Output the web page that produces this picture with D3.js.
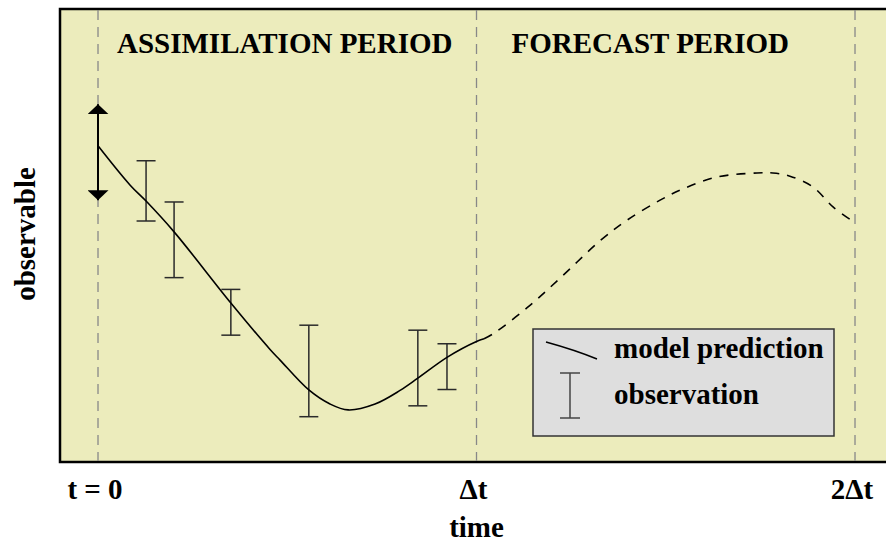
<!DOCTYPE html>
<html lang="en">
<head>
    <meta charset="UTF-8">
    <title>Assimilation and Forecast</title>
    <script src="https://d3js.org/d3.v7.min.js"></script>
    <style>
        body { margin: 0; background: #fff; }
        text { font-family: "Liberation Serif", "Times New Roman", serif; font-weight: bold; }
    </style>
</head>
<body>
    <svg id="chart" width="886" height="544"></svg>
    <script>
    // time in units of Δt, observable in arbitrary units (0-100)
    const tickTimes = [0, 1, 2];
    const tickLabels = ["t = 0", "\u0394t", "2\u0394t"];
    const periodLabels = ["ASSIMILATION PERIOD", "FORECAST PERIOD"];

    const modelTime = [0, 0.085, 0.127, 0.201, 0.351, 0.454, 0.481, 0.557, 0.613, 0.661, 0.732, 0.798, 0.845, 0.922, 1.0, 1.02];
    const modelValue = [69.8, 61.1, 57.6, 50.8, 35.1, 24.9, 22.5, 15.9, 12.8, 11.5, 12.8, 15.8, 18.5, 23.1, 26.6, 27.2];

    const forecastTime = [1.02, 1.044, 1.133, 1.221, 1.326, 1.398, 1.485, 1.546, 1.635, 1.741, 1.783, 1.828, 1.889, 1.942, 1.997];
    const forecastValue = [27.2, 28.3, 34.0, 40.6, 48.8, 53.4, 57.8, 60.3, 62.9, 63.8, 63.8, 63.1, 60.7, 56.3, 53.0];

    const obsTime = [0.127, 0.201, 0.351, 0.557, 0.845, 0.922];
    const obsHigh = [66.5, 57.4, 38.1, 30.2, 29.1, 26.1];
    const obsLow = [53.2, 40.7, 28.0, 10.0, 12.4, 16.0];

    // initial-state uncertainty range at t = 0
    const initRange = [57.8, 79.0];

    const svg = d3.select("#chart");
    const frame = { left: 60, top: 9, bottom: 462, right: 900 };

    const x = d3.scaleLinear().domain([0, 2]).range([98, 855]);
    const y = d3.scaleLinear().domain([0, 100]).range([frame.bottom, frame.top]);

    const defs = svg.append("defs");
    defs.append("marker")
        .attr("id", "head")
        .attr("viewBox", "0 0 10 21")
        .attr("refX", 10).attr("refY", 10.5)
        .attr("markerWidth", 10).attr("markerHeight", 21)
        .attr("markerUnits", "userSpaceOnUse")
        .attr("orient", "auto-start-reverse")
        .append("path")
        .attr("d", "M0,0 L10,10.5 L0,21 Z")
        .attr("fill", "#000");

    // background panel
    svg.append("rect")
        .attr("x", frame.left).attr("y", frame.top)
        .attr("width", frame.right - frame.left)
        .attr("height", frame.bottom - frame.top)
        .attr("fill", "#ececbc")
        .attr("stroke", "#000")
        .attr("stroke-width", 2.5);

    // dashed period boundaries
    svg.selectAll("line.period")
        .data(tickTimes)
        .enter().append("line")
        .attr("class", "period")
        .attr("x1", d => x(d)).attr("x2", d => x(d))
        .attr("y1", frame.top + 1).attr("y2", frame.bottom - 1)
        .attr("stroke", "#888")
        .attr("stroke-width", 1.3)
        .attr("stroke-dasharray", "10,7");

    svg.selectAll("text.period")
        .data(periodLabels)
        .enter().append("text")
        .attr("class", "period")
        .attr("x", (d, i) => x(i) + (i === 0 ? 19 : 35))
        .attr("y", 53)
        .attr("font-size", 29)
        .text(d => d);

    // error bars
    const bars = svg.selectAll("g.obs")
        .data(obsTime.map((t, i) => ({ t, hi: obsHigh[i], lo: obsLow[i] })))
        .enter().append("g")
        .attr("class", "obs")
        .attr("stroke", "#2a2a2a")
        .attr("stroke-width", 1.5);
    bars.append("line")
        .attr("x1", d => x(d.t)).attr("x2", d => x(d.t))
        .attr("y1", d => y(d.hi)).attr("y2", d => y(d.lo));
    bars.append("line")
        .attr("x1", d => x(d.t) - 9.5).attr("x2", d => x(d.t) + 9.5)
        .attr("y1", d => y(d.hi)).attr("y2", d => y(d.hi));
    bars.append("line")
        .attr("x1", d => x(d.t) - 9.5).attr("x2", d => x(d.t) + 9.5)
        .attr("y1", d => y(d.lo)).attr("y2", d => y(d.lo));

    const line = d3.line()
        .x(d => x(d[0]))
        .y(d => y(d[1]))
        .curve(d3.curveCatmullRom);

    svg.append("path")
        .attr("d", line(modelTime.map((t, i) => [t, modelValue[i]])))
        .attr("fill", "none")
        .attr("stroke", "#000")
        .attr("stroke-width", 1.6);

    svg.append("path")
        .attr("d", line(forecastTime.map((t, i) => [t, forecastValue[i]])))
        .attr("fill", "none")
        .attr("stroke", "#000")
        .attr("stroke-width", 1.6)
        .attr("stroke-dasharray", "9,8");

    // double arrow at t = 0
    svg.append("line")
        .attr("x1", x(0)).attr("x2", x(0))
        .attr("y1", y(initRange[0])).attr("y2", y(initRange[1]))
        .attr("stroke", "#000")
        .attr("stroke-width", 2)
        .attr("marker-start", "url(#head)")
        .attr("marker-end", "url(#head)");

    // legend
    const legend = svg.append("g");
    legend.append("rect")
        .attr("x", 533).attr("y", 329)
        .attr("width", 301).attr("height", 107)
        .attr("fill", "#dedede")
        .attr("stroke", "#333")
        .attr("stroke-width", 1.5);
    legend.append("path")
        .attr("d", "M546,342 Q575,350 597,359")
        .attr("fill", "none")
        .attr("stroke", "#000")
        .attr("stroke-width", 1.5);
    legend.append("line")
        .attr("x1", 570).attr("x2", 570).attr("y1", 373).attr("y2", 418)
        .attr("stroke", "#444").attr("stroke-width", 1.5);
    legend.selectAll("line.cap")
        .data([373, 418])
        .enter().append("line")
        .attr("class", "cap")
        .attr("x1", 560).attr("x2", 580)
        .attr("y1", d => d).attr("y2", d => d)
        .attr("stroke", "#444").attr("stroke-width", 1.5);
    legend.selectAll("text")
        .data(["model prediction", "observation"])
        .enter().append("text")
        .attr("x", 614)
        .attr("y", (d, i) => 358 + i * 46)
        .attr("font-size", 29)
        .text(d => d);

    // axis labels
    svg.selectAll("text.tick")
        .data(tickTimes)
        .enter().append("text")
        .attr("class", "tick")
        .attr("x", d => x(d) - 3)
        .attr("y", 499)
        .attr("text-anchor", "middle")
        .attr("font-size", 29)
        .text((d, i) => tickLabels[i]);

    svg.append("text")
        .attr("x", x(1))
        .attr("y", 537)
        .attr("text-anchor", "middle")
        .attr("font-size", 29)
        .text("time");

    svg.append("text")
        .attr("transform", "translate(35,234) rotate(-90)")
        .attr("text-anchor", "middle")
        .attr("font-size", 29)
        .text("observable");
    </script>
</body>
</html>
